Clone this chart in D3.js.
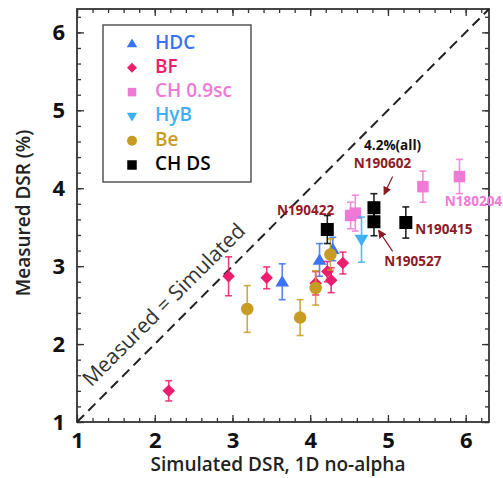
<!DOCTYPE html>
<html><head><meta charset="utf-8">
<script src="https://cdn.jsdelivr.net/npm/d3@7"></script>
<style>body{margin:0;background:#fff}svg{display:block}</style>
</head><body>
<svg id="c" width="503" height="478"></svg>
<script>
// ---- data ----
const seriesNames = ["HDC", "BF", "CH 0.9sc", "HyB", "Be", "CH DS"];
const HDC = [[3.64, 2.80, 0.23], [4.12, 3.08, 0.21], [4.29, 3.22, 0.15]];
const BF = [[2.18, 1.40, 0.13], [2.95, 2.87, 0.25], [3.44, 2.85, 0.14], [4.07, 2.78, 0.15], [4.22, 2.93, 0.13], [4.27, 2.82, 0.16], [4.42, 3.04, 0.14]];
const CH09 = [[4.52, 3.65, 0.17], [4.58, 3.68, 0.23], [5.45, 4.02, 0.20], [5.92, 4.15, 0.22]];
const HyB = [[4.66, 3.34, 0.29]];
const Be = [[3.19, 2.45, 0.30], [3.87, 2.34, 0.23], [4.07, 2.72, 0.22], [4.26, 3.15, 0.20]];
const CHDS = [[4.22, 3.47, 0.18], [4.82, 3.75, 0.18], [4.82, 3.57, 0.18], [5.23, 3.56, 0.20]];
const majorTicks = [1, 2, 3, 4, 5, 6];
const annotations = [
  {text: "4.2%(all)", x: 5.06, y: 4.54, kind: "black"},
  {text: "N190602", x: 4.93, y: 4.31, kind: "red"},
  {text: "N190422", x: 3.94, y: 3.70, kind: "red"},
  {text: "N190415", x: 5.72, y: 3.46, kind: "red"},
  {text: "N190527", x: 5.32, y: 3.05, kind: "red"},
  {text: "N180204", x: 6.10, y: 3.82, kind: "pink"}
];
const arrows = [
  {x1: 5.06, y1: 4.15, x2: 4.95, y2: 3.92},
  {x1: 5.06, y1: 3.19, x2: 4.88, y2: 3.46}
];

// ---- drawing ----
const seriesData = [HDC, BF, CH09, HyB, Be, CHDS];
const colors = ["#3a74ee", "#ee1c6c", "#ee7ad6", "#3cb0f2", "#c89c22", "#000000"];
const symbols = ["tri", "dia", "sq", "tri-down", "circ", "sq"];
const sizes = [13, 12.5, 11.5, 13, 12.5, 13];
const legendSizes = [10, 10, 8.5, 10, 10, 9.5];
const annColors = {black: "#111", red: "#8e1a26", pink: "#ee7ad6"};

const svg = d3.select("#c");
const x = d3.scaleLinear().domain([1, 6.3]).range([77, 489]);
const y = d3.scaleLinear().domain([1, 6.3]).range([422, 9]);
const font = "'Open Sans', sans-serif";

function symPath(i, s) {
  const h = s / 2;
  switch (symbols[i]) {
    case "tri": return `M0,${-h}L${h * 1.05},${h * 0.75}L${-h * 1.05},${h * 0.75}Z`;
    case "tri-down": return `M0,${h}L${h * 1.05},${-h * 0.75}L${-h * 1.05},${-h * 0.75}Z`;
    case "dia": return `M0,${-h}L${h},0L0,${h}L${-h},0Z`;
    case "sq": return `M${-h},${-h}H${h}V${h}H${-h}Z`;
    default: return d3.symbol(d3.symbolCircle, Math.PI * h * h)();
  }
}

const minor = d3.range(1, 6.3, 0.2);
// axes with inward ticks on all sides
const gB = svg.append("g").attr("transform", `translate(0,${y(1)})`)
  .call(d3.axisBottom(x).tickValues(majorTicks).tickSize(-7).tickFormat(d3.format("d")).tickPadding(10));
const gBm = svg.append("g").attr("transform", `translate(0,${y(1)})`)
  .call(d3.axisBottom(x).tickValues(minor).tickSize(-4).tickFormat(""));
const gT = svg.append("g").attr("transform", `translate(0,${y(6.3)})`)
  .call(d3.axisTop(x).tickValues(majorTicks).tickSize(-7).tickFormat(""));
const gTm = svg.append("g").attr("transform", `translate(0,${y(6.3)})`)
  .call(d3.axisTop(x).tickValues(minor).tickSize(-4).tickFormat(""));
const gL = svg.append("g").attr("transform", `translate(${x(1)},0)`)
  .call(d3.axisLeft(y).tickValues(majorTicks).tickSize(-7).tickFormat(d3.format("d")).tickPadding(12));
const gLm = svg.append("g").attr("transform", `translate(${x(1)},0)`)
  .call(d3.axisLeft(y).tickValues(minor).tickSize(-4).tickFormat(""));
const gR = svg.append("g").attr("transform", `translate(${x(6.3)},0)`)
  .call(d3.axisRight(y).tickValues(majorTicks).tickSize(-7).tickFormat(""));
const gRm = svg.append("g").attr("transform", `translate(${x(6.3)},0)`)
  .call(d3.axisRight(y).tickValues(minor).tickSize(-4).tickFormat(""));
[gB, gBm, gT, gTm, gL, gLm, gR, gRm].forEach(g => {
  g.select(".domain").remove();
  g.selectAll(".tick line").attr("stroke", "#333").attr("stroke-width", 1.3);
});
[gB, gL].forEach(g => g.selectAll(".tick text")
  .attr("font-family", font).attr("font-size", 22).attr("font-weight", 700).attr("fill", "#111"));

// frame
svg.append("rect").attr("x", x(1)).attr("y", y(6.3)).attr("width", x(6.3) - x(1)).attr("height", y(1) - y(6.3))
  .attr("fill", "none").attr("stroke", "#333").attr("stroke-width", 1.8);

// diagonal
svg.append("line").attr("x1", x(1)).attr("y1", y(1)).attr("x2", x(6.3)).attr("y2", y(6.3))
  .attr("stroke", "#222").attr("stroke-width", 2).attr("stroke-dasharray", "10,6");
svg.append("text").attr("transform", `translate(${x(2.13)},${y(2.49)}) rotate(-45)`)
  .attr("text-anchor", "middle").attr("dominant-baseline", "middle")
  .attr("font-family", font).attr("font-size", 21).attr("fill", "#333").text("Measured = Simulated");

// axis titles
svg.append("text").attr("x", 278).attr("y", 471).attr("text-anchor", "middle")
  .attr("font-family", font).attr("font-size", 19).attr("font-weight", 600).attr("fill", "#222")
  .text("Simulated DSR, 1D no-alpha");
svg.append("text").attr("transform", `translate(30,213) rotate(-90)`).attr("text-anchor", "middle")
  .attr("font-family", font).attr("font-size", 19).attr("font-weight", 600).attr("fill", "#222")
  .text("Measured DSR (%)");

// data: error bars then markers
seriesData.forEach((data, i) => {
  const g = svg.append("g");
  const c = colors[i];
  data.forEach(([vx, vy, e]) => {
    g.append("line").attr("x1", x(vx)).attr("x2", x(vx)).attr("y1", y(vy - e)).attr("y2", y(vy + e))
      .attr("stroke", c).attr("stroke-width", 1.6).attr("opacity", 0.85);
    [vy - e, vy + e].forEach(v => g.append("line").attr("x1", x(vx) - 3.5).attr("x2", x(vx) + 3.5)
      .attr("y1", y(v)).attr("y2", y(v)).attr("stroke", c).attr("stroke-width", 1.6).attr("opacity", 0.85));
  });
  data.forEach(([vx, vy]) => {
    g.append("path").attr("d", symPath(i, sizes[i])).attr("transform", `translate(${x(vx)},${y(vy)})`)
      .attr("fill", c);
  });
});

// annotations
annotations.forEach(a => {
  svg.append("text").attr("x", x(a.x)).attr("y", y(a.y)).attr("text-anchor", "middle")
    .attr("dominant-baseline", "middle").attr("font-family", font).attr("font-size", 13.5)
    .attr("font-weight", 700).attr("fill", annColors[a.kind]).text(a.text);
});
svg.append("defs").append("marker").attr("id", "ah").attr("viewBox", "0 0 10 10")
  .attr("refX", 9).attr("refY", 5).attr("markerWidth", 7).attr("markerHeight", 7).attr("orient", "auto")
  .append("path").attr("d", "M0,0L10,5L0,10Z").attr("fill", "#8e1a26");
arrows.forEach(a => {
  svg.append("line").attr("x1", x(a.x1)).attr("y1", y(a.y1)).attr("x2", x(a.x2)).attr("y2", y(a.y2))
    .attr("stroke", "#8e1a26").attr("stroke-width", 1.2).attr("marker-end", "url(#ah)");
});

// legend
const lg = svg.append("g");
lg.append("rect").attr("x", 103).attr("y", 25).attr("width", 148).attr("height", 157)
  .attr("fill", "#fff").attr("stroke", "#555").attr("stroke-width", 1.5);
seriesNames.forEach((n, i) => {
  const cy = 43.5 + i * 24.3;
  lg.append("path").attr("d", symPath(i, legendSizes[i])).attr("transform", `translate(132,${cy})`)
    .attr("fill", colors[i]);
  lg.append("text").attr("x", 155).attr("y", cy).attr("dominant-baseline", "middle")
    .attr("font-family", font).attr("font-size", 19).attr("font-weight", 600)
    .attr("fill", colors[i]).text(n);
});
</script>
</body></html>
